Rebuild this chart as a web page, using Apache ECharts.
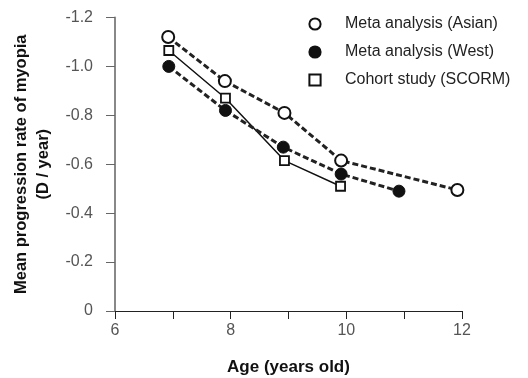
<!DOCTYPE html>
<html>
<head>
<meta charset="utf-8">
<script src="https://cdn.jsdelivr.net/npm/echarts@6/dist/echarts.min.js"></script>
<style>
html,body{margin:0;padding:0;background:#fff;}
#chart{width:528px;height:378px;}
</style>
</head>
<body>
<div id="chart"></div>
<script>
const seriesNames = ['Meta analysis (Asian)', 'Meta analysis (West)', 'Cohort study (SCORM)'];
const asianAge = [6.92, 7.9, 8.93, 9.91, 11.92];
const asianRate = [-1.12, -0.94, -0.81, -0.615, -0.495];
const westAge = [6.93, 7.91, 8.91, 9.91, 10.91];
const westRate = [-1.0, -0.82, -0.67, -0.56, -0.49];
const cohortAge = [6.93, 7.91, 8.93, 9.9];
const cohortRate = [-1.065, -0.87, -0.615, -0.51];
const xTicks = [6, 8, 10, 12];
const yTicks = [0, -0.2, -0.4, -0.6, -0.8, -1.0, -1.2];

function pairs(xs, ys) { return xs.map((x, i) => [x, ys[i]]); }

const chart = echarts.init(document.getElementById('chart'), null, {renderer: 'canvas'});
const FONT = 'Liberation Sans, Arial, sans-serif';
chart.setOption({
  animation: false,
  backgroundColor: '#fff',
  grid: {left: 115, right: 66, top: 17.5, bottom: 67, containLabel: false, outerBoundsMode: 'none'},
  legend: {
    orient: 'vertical',
    left: 285,
    top: 11,
    itemWidth: 50,
    itemHeight: 14,
    itemGap: 12,
    align: 'left',
    lineStyle: {width: 0, opacity: 0},
    textStyle: {fontFamily: FONT, fontSize: 16, color: '#222', lineHeight: 16},
    data: seriesNames
  },
  xAxis: {
    type: 'value',
    min: 6, max: 12, interval: 1,
    name: 'Age (years old)',
    nameLocation: 'middle',
    nameGap: 48,
    nameTextStyle: {fontFamily: FONT, fontSize: 17, fontWeight: 'bold', color: '#111'},
    axisLine: {show: true, lineStyle: {color: '#222', width: 1}},
    axisTick: {show: true, length: 8, inside: false, lineStyle: {color: '#222', width: 1}},
    axisLabel: {
      margin: 12, fontFamily: FONT, fontSize: 16, color: '#555',
      formatter: v => xTicks.indexOf(v) >= 0 ? String(v) : ''
    },
    splitLine: {show: false}
  },
  yAxis: {
    type: 'value',
    inverse: true,
    min: -1.2, max: 0, interval: 0.2,
    name: 'Mean progression rate of myopia\n(D / year)',
    nameLocation: 'middle',
    nameRotate: 90,
    nameGap: 56,
    nameTextStyle: {fontFamily: FONT, fontSize: 16.5, fontWeight: 'bold', color: '#111', lineHeight: 22, align: 'center'},
    axisLine: {show: true, onZero: false, lineStyle: {color: '#888', width: 2}},
    axisTick: {show: true, length: 9, lineStyle: {color: '#666', width: 1}},
    axisLabel: {
      margin: 22, fontFamily: FONT, fontSize: 16, color: '#555',
      formatter: v => {
        const t = yTicks.find(k => Math.abs(k - v) < 1e-6);
        if (t === undefined) return '';
        return t === 0 ? '0' : t.toFixed(1);
      }
    },
    splitLine: {show: false}
  },
  series: [
    {
      name: seriesNames[0], type: 'line', data: pairs(asianAge, asianRate),
      symbol: 'circle', symbolSize: 12,
      itemStyle: {color: '#fff', borderColor: '#111', borderWidth: 2},
      lineStyle: {color: '#222', width: 3, type: [6, 3]},
      z: 4
    },
    {
      name: seriesNames[1], type: 'line', data: pairs(westAge, westRate),
      symbol: 'circle', symbolSize: 12,
      itemStyle: {color: '#111', borderColor: '#111', borderWidth: 1},
      lineStyle: {color: '#222', width: 3, type: [6, 3]},
      z: 3
    },
    {
      name: seriesNames[2], type: 'line', data: pairs(cohortAge, cohortRate),
      symbol: 'rect', symbolSize: 9,
      itemStyle: {color: '#fff', borderColor: '#111', borderWidth: 1.8},
      lineStyle: {color: '#111', width: 1.5, type: 'solid'},
      z: 2
    }
  ]
});
</script>
</body>
</html>
